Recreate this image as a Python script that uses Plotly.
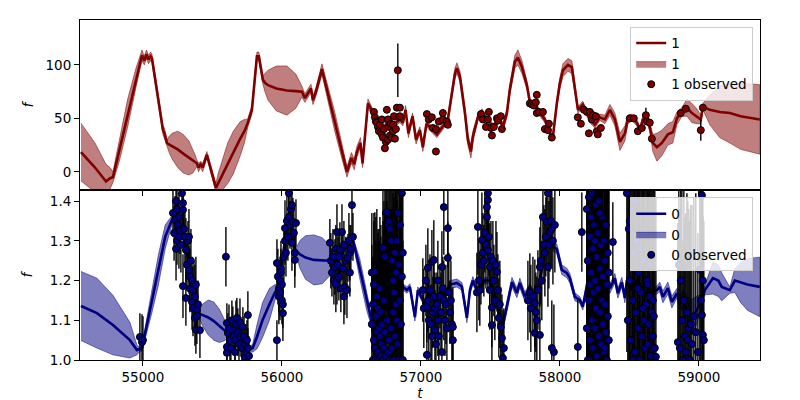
import numpy as np
import plotly.graph_objects as go
from plotly.subplots import make_subplots

# ---------------- channel 1 (top) model ----------------
t1_model = [54554, 54655, 54734, 54763, 54784, 54830, 54890, 54950, 54993, 55010, 55025, 55040, 55055, 55065,
            55144, 55155, 55173, 55190, 55210, 55250, 55290, 55330, 55360, 55375, 55388, 55400, 55415, 55430, 55460,
            55525, 55540, 55560, 55610, 55650, 55700, 55730, 55745, 55755, 55784, 55820, 55834, 55863, 55880, 55900,
            55960, 56036, 56100, 56130, 56144, 56165, 56209, 56223, 56245, 56288, 56330, 56380, 56430, 56468, 56500,
            56520, 56540, 56565, 56580, 56619, 56645, 56680, 56720, 56760, 56800, 56849, 56870, 56890, 56910, 56940,
            56965, 56993, 57014, 57040, 57080, 57115, 57194, 57223, 57245, 57259, 57281, 57317, 57338, 57360, 57374,
            57410, 57439, 57480, 57520, 57568, 57590, 57619, 57640, 57676, 57698, 57727, 57763, 57784, 57820, 57856,
            57892, 57928, 57950, 57978, 58000, 58022, 58058, 58086, 58108, 58130, 58165, 58194, 58216, 58252,
            58288, 58324, 58360, 58396, 58432, 58468, 58489, 58518, 58554, 58576, 58597, 58626, 58647, 58669,
            58698, 58734, 58777, 58813, 58842, 58878, 58914, 58950, 58985, 59014, 59029, 59050, 59079, 59150, 59223,
            59300, 59439]
f1_model = [18.5, 4, -9, -6, -5, 20, 55, 88, 109, 104, 110, 105, 108, 106,
            39, 36, 27, 25.5, 24, 21, 17, 13, 10, 9, 8, 4, 7, 4, 16,
            -15, -11, -6, 8, 18, 31, 38, 42, 46, 58, 108, 108, 86, 83, 81,
            78, 76, 75.5, 75.2, 75, 69, 78, 67, 75, 96, 74, 47, 20, 0, 13,
            7, 19, 27, 8, 64, 58, 48, 38, 46, 44, 49, 46, 58, 36, 52,
            30, 39, 23, 45, 40, 35, 49, 74, 92, 97, 89, 55, 30, 19, 33,
            51, 56, 48, 42, 49, 42, 55, 77, 103, 107, 98, 81, 65, 63, 55,
            49, 36, 33, 64, 83, 95, 100, 98, 80, 58, 63, 55, 49, 44,
            51, 49, 58, 49, 28, 36, 49, 51, 46, 39, 49, 49, 42, 27,
            23, 27, 35, 37, 50, 56, 60, 55, 52, 49, 61, 59.5, 58, 56, 55,
            52, 49]
s1_model = [27, 23, 16, 10, 5, 10, 13, 9, 5, 4, 4, 4, 4, 4,
            4, 5, 3, 8, 12, 17, 18, 16, 11, 7, 3, 4, 3, 4, 3,
            4, 9, 13, 19, 20, 16, 11, 7, 4, 4, 4, 4, 4, 9, 14,
            21, 23, 16, 9, 5, 4, 4, 4, 4, 5, 7, 9, 7, 5, 5,
            5, 5, 5, 4, 4, 3, 3, 3, 3, 3, 3, 3, 4, 4, 3,
            4, 3, 4, 3, 3, 3, 3, 4, 5, 5, 5, 5, 5, 6, 5,
            3, 3, 3, 3, 3, 4, 4, 5, 6, 7, 6, 4, 3, 3, 3,
            3, 3, 3, 4, 5, 6, 6, 6, 4, 3, 3, 3, 3, 3,
            3, 4, 5, 6, 8, 7, 4, 3, 3, 3, 3, 3, 4, 8,
            13, 12, 10, 10, 6, 4, 8, 9, 7, 4, 3, 8, 14, 24, 28,
            31, 32.5]

# ---------------- channel 1 (top) observations ----------------
t1_obs = [56662, 56669, 56676, 56683, 56691, 56698, 56705, 56712, 56719, 56719, 56727, 56734, 56741, 56748,
          56755, 56763, 56763, 56770, 56777, 56784, 56791, 56799, 56799, 56806, 56813, 56820, 56827, 56834,
          56842, 56849, 56849,
          57043, 57057, 57079, 57086, 57108, 57108, 57129, 57158, 57158, 57187, 57194,
          57432, 57446, 57468, 57482, 57489, 57504, 57511, 57525, 57547, 57554, 57575, 57583,
          57784, 57798, 57813, 57827, 57834, 57834, 57849, 57878, 57892, 57914, 57921, 57942,
          58129, 58151, 58173, 58194, 58209, 58216, 58230, 58237, 58259, 58266, 58273, 58295,
          58503, 58532, 58561, 58590, 58619, 58626, 58647, 58662,
          58870, 58906, 59014, 59029]
f1_obs = [56, 51, 47, 46, 42, 38, 44, 37, 35, 49, 32, 40, 22, 28,
          58, 49, 30, 42, 34, 45, 32, 44, 38, 52, 31, 40, 60, 95,
          51, 60, 52,
          54, 49, 51, 41, 40, 19, 47, 49, 55, 47, 44,
          54, 49, 42, 49, 56, 41, 34, 42, 50, 48, 52, 40,
          64, 63, 62, 65, 72, 55, 56, 56, 40, 39, 45, 32,
          51, 45, 58, 56, 36, 56, 49, 53, 52, 38, 35, 41,
          50, 50, 38, 41, 53, 47, 46, 31,
          55, 59, 39, 60]
e1_obs = [3, 3, 3, 3, 3, 3, 3, 3, 3, 3, 3, 3, 3, 3,
          3, 3, 3, 3, 3, 3, 3, 3, 3, 3, 3, 3, 3, 25,
          3, 3, 3,
          3, 3, 3, 3, 3, 3, 3, 3, 3, 3, 3,
          3, 3, 3, 3, 3, 3, 3, 3, 3, 3, 3, 3,
          3, 3, 3, 3, 3, 3, 3, 3, 3, 3, 3, 3,
          3, 3, 3, 3, 3, 3, 3, 3, 3, 3, 3, 3,
          3, 3, 3, 3, 7, 3, 3, 3,
          3, 3, 10, 3]

# ---------------- channel 0 (bottom) model ----------------
t0_model = [54554, 54669, 54784, 54906, 54957, 54978, 54993, 55065, 55110, 55160, 55209, 55235, 55266, 55317,
            55360, 55396, 55430, 55470, 55510, 55550, 55590, 55615, 55650, 55700, 55760, 55790, 55820, 55860,
            55910, 55950, 55970, 56000, 56030, 56055, 56079, 56100, 56130, 56170, 56230, 56290, 56340, 56380,
            56420, 56470, 56511, 56560, 56610, 56655, 56700, 56750, 56800, 56849, 56871, 56899, 56921, 56957,
            56978, 57014, 57029, 57065, 57100, 57140, 57170, 57210, 57259, 57295, 57331, 57353, 57374, 57403,
            57424, 57460, 57500, 57530, 57547, 57583, 57619, 57655, 57691, 57712, 57748, 57784, 57806, 57842,
            57870, 57906, 57928, 57950, 57978, 58014, 58050, 58072, 58108, 58144, 58165, 58201, 58230, 58270,
            58300, 58324, 58345, 58360, 58396, 58417, 58446, 58468, 58482, 58520, 58560, 58600, 58650, 58698,
            58719, 58741, 58777, 58806, 58842, 58863, 58885, 58921, 58950, 58986, 59020, 59043, 59101, 59140,
            59165, 59223, 59259, 59300, 59350, 59439]
f0_model = [1.136, 1.118, 1.088, 1.05, 1.025, 1.027, 1.03, 1.15, 1.225, 1.31, 1.353, 1.37, 1.34, 1.27,
            1.193, 1.118, 1.113, 1.107, 1.098, 1.086, 1.074, 1.066, 1.05, 1.04, 1.025, 1.03, 1.058, 1.1,
            1.14, 1.17, 1.18, 1.24, 1.33, 1.36, 1.295, 1.275, 1.266, 1.258, 1.252, 1.25, 1.25, 1.252,
            1.265, 1.285, 1.302, 1.23, 1.15, 1.083, 1.1, 1.14, 1.18, 1.2, 1.184, 1.176, 1.184, 1.108,
            1.176, 1.151, 1.134, 1.176, 1.15, 1.17, 1.16, 1.19, 1.194, 1.185, 1.106, 1.176, 1.2, 1.176,
            1.185, 1.2, 1.2, 1.16, 1.143, 1.076, 1.134, 1.196, 1.169, 1.194, 1.159, 1.184, 1.17, 1.176,
            1.227, 1.302, 1.32, 1.285, 1.28, 1.227, 1.219, 1.206, 1.159, 1.151, 1.134, 1.2, 1.23, 1.25,
            1.24, 1.222, 1.2, 1.18, 1.206, 1.168, 1.196, 1.156, 1.2, 1.18, 1.2, 1.17, 1.17, 1.176,
            1.184, 1.159, 1.181, 1.146, 1.168, 1.143, 1.151, 1.118, 1.108, 1.126, 1.15, 1.176, 1.206, 1.2,
            1.184, 1.176, 1.2, 1.195, 1.19, 1.184]
s0_model = [0.087, 0.088, 0.075, 0.045, 0.012, 0.005, 0.008, 0.03, 0.038, 0.03, 0.012, 0.006, 0.006, 0.006,
            0.006, 0.006, 0.028, 0.044, 0.048, 0.042, 0.025, 0.006, 0.006, 0.006, 0.006, 0.01, 0.03, 0.044,
            0.04, 0.02, 0.008, 0.006, 0.006, 0.006, 0.006, 0.006, 0.035, 0.055, 0.063, 0.058, 0.04, 0.01,
            0.006, 0.006, 0.008, 0.025, 0.025, 0.012, 0.008, 0.008, 0.008, 0.008, 0.008, 0.008, 0.008, 0.01,
            0.008, 0.008, 0.008, 0.008, 0.008, 0.008, 0.008, 0.01, 0.01, 0.01, 0.012, 0.01, 0.01, 0.008,
            0.008, 0.008, 0.008, 0.008, 0.008, 0.012, 0.012, 0.012, 0.012, 0.012, 0.012, 0.008, 0.008, 0.008,
            0.008, 0.008, 0.008, 0.01, 0.012, 0.012, 0.012, 0.012, 0.01, 0.008, 0.008, 0.008, 0.006, 0.006,
            0.006, 0.008, 0.01, 0.012, 0.012, 0.012, 0.012, 0.012, 0.01, 0.008, 0.008, 0.008, 0.008, 0.01,
            0.012, 0.015, 0.015, 0.015, 0.012, 0.015, 0.025, 0.04, 0.045, 0.035, 0.015, 0.012, 0.04, 0.04,
            0.035, 0.008, 0.03, 0.05, 0.065, 0.075]

# ---------------- channel 0 (bottom) observations ----------------
t0_obs = [54978, 54993, 55000,
          55216, 55224, 55231, 55238, 55238, 55245, 55245, 55252, 55259, 55259, 55266, 55273, 55281, 55288,
          55288, 55295, 55302, 55309, 55317, 55324, 55331, 55331, 55338, 55338, 55345, 55353, 55353, 55360,
          55360, 55367, 55374, 55374, 55381, 55381, 55388, 55388, 55396, 55288, 55309, 55410,
          55597,
          55604, 55604, 55604, 55611, 55619, 55626, 55633, 55640, 55647, 55655, 55662, 55662, 55669, 55676,
          55683, 55691, 55698, 55705, 55712, 55719, 55727, 55734, 55734, 55741, 55748, 55755, 55755, 55763,
          55964, 55964, 55971, 55978, 55978, 55986, 55993, 56000, 56007, 56007, 56014, 56022, 56022, 56029,
          56036, 56043, 56050, 56050, 56058, 56065, 56072, 56072, 56079, 56086, 56093, 56093, 56101, 55986,
          56000, 55993,
          56345, 56352, 56360, 56367, 56374, 56381, 56388, 56396, 56396, 56403, 56410, 56417, 56424, 56432,
          56432, 56439, 56446, 56453, 56460, 56468, 56475, 56482, 56489, 56489, 56496, 56504, 56511, 56388,
          56410, 56446,
          56647, 56647, 56655, 56655, 56662, 56662, 56669, 56669, 56676, 56676, 56683, 56683, 56691, 56691,
          56698, 56698, 56705, 56705, 56712, 56712, 56719, 56719, 56727, 56727, 56734, 56734, 56741, 56741,
          56748, 56748, 56755, 56755, 56763, 56763, 56770, 56770, 56777, 56777, 56784, 56784, 56791, 56791,
          56799, 56799, 56806, 56806, 56813, 56813, 56820, 56820, 56827, 56827, 56834, 56834, 56842, 56842,
          56849, 56849, 56856, 56856, 56863, 56863, 56870, 56870,
          57014, 57021, 57036, 57043, 57043, 57050, 57050, 57057, 57065, 57072, 57079, 57079, 57086, 57093,
          57093, 57101, 57101, 57108, 57115, 57122, 57122, 57129, 57137, 57144, 57151, 57151, 57158, 57165,
          57165, 57173, 57180, 57187, 57194, 57194, 57201, 57209, 57216, 57223, 57230, 57230,
          57403, 57410, 57417, 57424, 57432, 57439, 57446, 57453, 57460, 57468, 57475, 57475, 57482, 57482,
          57482, 57489, 57496, 57496, 57504, 57511, 57511, 57518, 57525, 57532, 57540, 57547, 57554, 57561,
          57568, 57575, 57583, 57590, 57597,
          57770, 57784, 57791, 57806, 57820, 57820, 57827, 57834, 57842, 57856, 57856, 57863, 57870, 57878,
          57885, 57892, 57899, 57906, 57914, 57914, 57921, 57928, 57935, 57942, 57950, 57964, 57957, 57942,
          58129, 58158,
          58194, 58194, 58201, 58201, 58209, 58209, 58216, 58216, 58223, 58223, 58230, 58230, 58237, 58237,
          58245, 58245, 58252, 58252, 58259, 58259, 58266, 58266, 58273, 58273, 58281, 58281, 58288, 58288,
          58295, 58295, 58302, 58302, 58309, 58309, 58317, 58317, 58324, 58324, 58331, 58331, 58338, 58338,
          58345, 58345, 58352, 58352, 58216, 58252, 58288, 58324, 58381,
          58482, 58489, 58496, 58503, 58511, 58518, 58525, 58532, 58539, 58547, 58554, 58561, 58568, 58575,
          58583, 58590, 58597, 58604, 58611, 58619, 58626, 58633, 58640, 58647, 58655, 58662, 58669, 58676,
          58683, 58691, 58503, 58539, 58575, 58611, 58647, 58525, 58561, 58597, 58633, 58669,
          58849, 58856, 58863, 58870, 58878, 58885, 58892, 58899, 58906, 58914, 58921, 58928, 58935, 58942,
          58950, 58964, 58978, 58993, 59007, 59014, 59022, 59022, 59029, 59029, 59036]
f0_obs = [1.058, 1.045, 1.05,
          1.37, 1.32, 1.353, 1.28, 1.40, 1.30, 1.38, 1.34, 1.36, 1.31, 1.327, 1.29, 1.42, 1.378,
          1.395, 1.33, 1.31, 1.277, 1.24, 1.30, 1.31, 1.227, 1.21, 1.18, 1.25, 1.2, 1.146, 1.176,
          1.13, 1.19, 1.106, 1.16, 1.076, 1.19, 1.126, 1.11, 1.14, 1.186, 1.156, 1.075,
          1.26,
          1.093, 1.033, 1.018, 1.068, 1.08, 1.05, 1.03, 1.10, 1.075, 1.06, 1.05, 1.02, 1.09, 1.106,
          1.07, 1.04, 1.095, 1.058, 1.03, 1.083, 1.06, 1.008, 1.04, 1.02, 1.05, 1.113, 1.03, 1.01,
          1.05, 1.244, 1.21, 1.18, 1.16, 1.2, 1.23, 1.19, 1.118, 1.14, 1.26, 1.3, 1.332, 1.27,
          1.35, 1.31, 1.42, 1.36, 1.34, 1.38, 1.39, 1.295, 1.348, 1.32, 1.27, 1.252, 1.345, 1.17,
          1.15, 1.22,
          1.295, 1.25, 1.22, 1.26, 1.2, 1.234, 1.28, 1.322, 1.2, 1.24, 1.21, 1.277, 1.18, 1.322,
          1.26, 1.23, 1.29, 1.184, 1.25, 1.176, 1.257, 1.3, 1.22, 1.27, 1.28, 1.39, 1.31, 1.19,
          1.26, 1.16,
          1.22, 1.09, 1.0, 1.14, 1.05, 1.19, 1.03, 1.222, 1.11, 1.0, 1.07, 1.16, 1.02, 1.13,
          1.08, 1.0, 1.06, 1.18, 1.01, 1.12, 1.04, 1.09, 1.282, 1.0, 1.15, 1.03, 1.26, 1.07,
          1.01, 1.37, 1.372, 1.1, 1.02, 1.34, 1.05, 1.35, 1.33, 1.0, 1.3, 1.08, 1.25, 1.03,
          1.2, 1.12, 1.17, 1.0, 1.27, 1.06, 1.22, 1.14, 1.1, 1.3, 1.37, 1.04, 1.24, 1.0,
          1.34, 1.15, 1.21, 1.09, 1.21, 1.42, 1.27, 1.0,
          1.176, 1.13, 1.2, 1.013, 1.134, 1.232, 1.15, 1.1, 1.176, 1.09, 1.247, 1.06, 1.12, 1.252,
          1.16, 1.076, 1.13, 1.04, 1.14, 1.2, 1.1, 1.06, 1.16, 1.12, 1.234, 1.02, 1.18, 1.385,
          1.15, 1.1, 1.14, 1.08, 1.332, 1.257, 1.17, 1.12, 1.15, 1.09, 1.083, 1.05,
          1.17, 1.335, 1.2, 1.176, 1.24, 1.302, 1.27, 1.25, 1.32, 1.29, 1.385, 1.36, 1.403, 1.277,
          1.42, 1.31, 1.234, 1.176, 1.26, 1.132, 1.088, 1.25, 1.2, 1.15, 1.24, 1.222, 1.176, 1.106,
          1.14, 1.083, 1.055, 1.005, 1.03,
          1.15, 1.169, 1.13, 1.16, 1.143, 1.068, 1.12, 1.1, 1.176, 1.063, 1.234, 1.25, 1.2, 1.36,
          1.29, 1.27, 1.31, 1.348, 1.42, 1.234, 1.29, 1.322, 1.35, 1.33, 1.3, 1.34, 1.02, 1.03,
          1.033, 1.322,
          1.38, 1.08, 1.25, 1.0, 1.41, 1.15, 1.31, 1.05, 1.22, 1.36, 1.1, 1.42, 1.28, 1.03,
          1.17, 1.34, 1.2, 1.08, 1.39, 1.13, 1.26, 1.01, 1.32, 1.18, 1.06, 1.4, 1.23, 1.12,
          1.29, 1.04, 1.36, 1.15, 1.21, 1.09, 1.3, 1.02, 1.25, 1.14, 1.34, 1.07, 1.19, 1.0,
          1.27, 1.11, 1.22, 1.05, 1.19, 1.3, 1.37, 1.03, 1.297,
          1.42, 1.1, 1.33, 1.2, 1.05, 1.38, 1.15, 1.27, 1.02, 1.12, 1.3, 1.08, 1.22, 1.0,
          1.17, 1.06, 1.25, 1.1, 1.03, 1.14, 1.2, 1.04, 1.09, 1.16, 1.01, 1.12, 1.06, 1.11,
          1.03, 1.008, 1.35, 1.4, 1.28, 1.32, 1.24, 1.0, 1.18, 1.13, 1.19, 1.15,
          1.045, 1.24, 1.03, 1.2, 1.1, 1.0, 1.15, 1.06, 1.02, 1.12, 1.05, 1.08, 1.0, 1.09,
          1.04, 1.11, 1.07, 1.02, 1.227, 1.15, 1.113, 1.415, 1.063, 1.2, 1.05]
e0_obs = [0.06, 0.07, 0.06,
          0.06, 0.07, 0.06, 0.08, 0.07, 0.06, 0.05, 0.07, 0.06, 0.08, 0.06, 0.07, 0.08, 0.06,
          0.07, 0.06, 0.07, 0.08, 0.06, 0.05, 0.07, 0.06, 0.07, 0.06, 0.08, 0.06, 0.07, 0.06,
          0.07, 0.06, 0.07, 0.08, 0.06, 0.07, 0.06, 0.07, 0.06, 0.08, 0.07, 0.07,
          0.075,
          0.05, 0.05, 0.06, 0.05, 0.06, 0.05, 0.06, 0.05, 0.06, 0.05, 0.06, 0.05, 0.06, 0.05,
          0.06, 0.05, 0.06, 0.05, 0.06, 0.05, 0.05, 0.06, 0.05, 0.06, 0.05, 0.06, 0.05, 0.05,
          0.05, 0.06, 0.07, 0.06, 0.07, 0.06, 0.07, 0.06, 0.07, 0.06, 0.07, 0.06, 0.07, 0.06,
          0.07, 0.06, 0.08, 0.07, 0.06, 0.07, 0.06, 0.07, 0.06, 0.07, 0.06, 0.07, 0.06, 0.07,
          0.06, 0.06,
          0.06, 0.07, 0.06, 0.07, 0.06, 0.07, 0.06, 0.07, 0.06, 0.07, 0.06, 0.07, 0.06, 0.07,
          0.06, 0.07, 0.06, 0.07, 0.06, 0.07, 0.06, 0.07, 0.06, 0.07, 0.06, 0.07, 0.06, 0.07,
          0.06, 0.07,
          0.15, 0.2, 0.25, 0.12, 0.3, 0.18, 0.2, 0.15, 0.25, 0.3, 0.18, 0.22, 0.3, 0.2,
          0.25, 0.3, 0.2, 0.18, 0.3, 0.22, 0.25, 0.2, 0.2, 0.35, 0.25, 0.3, 0.25, 0.3,
          0.35, 0.2, 0.25, 0.3, 0.35, 0.3, 0.3, 0.25, 0.3, 0.35, 0.25, 0.3, 0.3, 0.35,
          0.3, 0.3, 0.35, 0.3, 0.3, 0.35, 0.3, 0.35, 0.3, 0.35, 0.3, 0.3, 0.35, 0.3,
          0.3, 0.35, 0.3, 0.3, 0.3, 0.35, 0.3, 0.3,
          0.08, 0.1, 0.09, 0.1, 0.09, 0.1, 0.08, 0.1, 0.09, 0.1, 0.08, 0.1, 0.09, 0.1,
          0.08, 0.1, 0.09, 0.1, 0.08, 0.1, 0.09, 0.1, 0.08, 0.1, 0.09, 0.1, 0.08, 0.12,
          0.1, 0.09, 0.1, 0.08, 0.1, 0.09, 0.1, 0.08, 0.1, 0.09, 0.1, 0.09,
          0.1, 0.12, 0.1, 0.09, 0.1, 0.12, 0.1, 0.09, 0.1, 0.11, 0.12, 0.1, 0.12, 0.1,
          0.12, 0.1, 0.11, 0.1, 0.09, 0.1, 0.11, 0.1, 0.09, 0.1, 0.11, 0.1, 0.09, 0.1,
          0.11, 0.1, 0.11, 0.12, 0.1,
          0.1, 0.1, 0.11, 0.1, 0.11, 0.12, 0.1, 0.11, 0.1, 0.12, 0.1, 0.11, 0.1, 0.12,
          0.1, 0.11, 0.1, 0.12, 0.13, 0.1, 0.11, 0.1, 0.12, 0.1, 0.11, 0.12, 0.12, 0.12,
          0.12, 0.1,
          0.4, 0.4, 0.35, 0.4, 0.45, 0.4, 0.35, 0.4, 0.4, 0.45, 0.4, 0.35, 0.4, 0.45,
          0.4, 0.35, 0.4, 0.45, 0.4, 0.35, 0.4, 0.45, 0.4, 0.35, 0.4, 0.45, 0.4, 0.35,
          0.4, 0.45, 0.4, 0.35, 0.4, 0.45, 0.4, 0.35, 0.4, 0.45, 0.4, 0.35, 0.4, 0.45,
          0.4, 0.35, 0.4, 0.45, 0.4, 0.4, 0.4, 0.4, 0.1,
          0.4, 0.4, 0.35, 0.4, 0.45, 0.4, 0.35, 0.4, 0.45, 0.4, 0.35, 0.4, 0.45, 0.4,
          0.35, 0.4, 0.45, 0.4, 0.35, 0.4, 0.45, 0.4, 0.35, 0.4, 0.45, 0.4, 0.35, 0.4,
          0.45, 0.4, 0.4, 0.4, 0.4, 0.4, 0.4, 0.4, 0.4, 0.4, 0.4, 0.4,
          0.3, 0.3, 0.35, 0.3, 0.35, 0.3, 0.35, 0.3, 0.35, 0.3, 0.35, 0.3, 0.35, 0.3,
          0.35, 0.3, 0.35, 0.3, 0.3, 0.35, 0.3, 0.35, 0.3, 0.35, 0.3]

x_ticks = [55000, 56000, 57000, 58000, 59000]
y1_ticks = [0, 50, 100]
y0_ticks = [1.0, 1.1, 1.2, 1.3, 1.4]

RED = '#800000'
BLUE = '#000080'
RED_FILL = 'rgba(128,0,0,0.5)'
BLUE_FILL = 'rgba(0,0,128,0.5)'
FONT = 'DejaVu Sans'

fig = make_subplots(rows=2, cols=1, shared_xaxes=True, vertical_spacing=0)


def add_channel(row, t, f, s, to, fo, eo, color, fill, name, legend):
    t = np.asarray(t, dtype=float)
    f = np.asarray(f, dtype=float)
    s = np.asarray(s, dtype=float)
    fig.add_trace(go.Scatter(
        x=np.concatenate([t, t[::-1]]),
        y=np.concatenate([f + s, (f - s)[::-1]]),
        fill='toself', fillcolor=fill, mode='lines',
        line=dict(color=fill, width=1), name=name,
        legend=legend, legendrank=2, hoverinfo='skip'), row=row, col=1)
    fig.add_trace(go.Scatter(
        x=t, y=f, mode='lines', line=dict(color=color, width=2.6),
        name=name, legend=legend, legendrank=1), row=row, col=1)
    fig.add_trace(go.Scatter(
        x=to, y=fo, mode='markers',
        marker=dict(size=7, color=color, line=dict(color='black', width=1)),
        error_y=dict(type='data', array=eo, color='black', thickness=1.4, width=0),
        name=name + ' observed', legend=legend, legendrank=3), row=row, col=1)


add_channel(1, t1_model, f1_model, s1_model, t1_obs, f1_obs, e1_obs, RED, RED_FILL, '1', 'legend')
add_channel(2, t0_model, f0_model, s0_model, t0_obs, f0_obs, e0_obs, BLUE, BLUE_FILL, '0', 'legend2')

axis_common = dict(showline=True, linecolor='black', linewidth=1, mirror=True,
                   ticks='outside', ticklen=5, tickwidth=1, tickcolor='black',
                   showgrid=False, zeroline=False, automargin=False,
                   tickfont=dict(family=FONT, size=13.5, color='black'))

fig.update_xaxes(range=[54547, 59440], tickvals=x_ticks, tickformat='d', **axis_common)
fig.update_xaxes(title=dict(text='<i>t</i>', font=dict(family=FONT, size=13.5, color='black'), standoff=4),
                 row=2, col=1)
fig.update_yaxes(range=[-17, 142], tickvals=y1_ticks, row=1, col=1, **axis_common)
fig.update_yaxes(range=[1.0, 1.428], tickvals=y0_ticks, tickformat='.1f', row=2, col=1, **axis_common)
fig.update_yaxes(title=dict(text='<i>f</i>', font=dict(family=FONT, size=13.5, color='black'), standoff=8),
                 row=1, col=1)
fig.update_yaxes(title=dict(text='<i>f</i>', font=dict(family=FONT, size=13.5, color='black'), standoff=14),
                 row=2, col=1)

legend_common = dict(bgcolor='rgba(255,255,255,0.8)', bordercolor='#cccccc', borderwidth=1,
                     font=dict(family=FONT, size=13.5, color='black'),
                     xanchor='right', yanchor='top', x=0.99, tracegroupgap=0)

# the page body has an 8 px margin, so offset the figure margins to land the
# plot area at the reference's screen position
fig.update_layout(
    width=800, height=400,
    margin=dict(l=72, r=48, t=12, b=48, autoexpand=False),
    paper_bgcolor='white', plot_bgcolor='white',
    showlegend=True,
    legend=dict(y=0.98, **legend_common),
    legend2=dict(y=0.478, **legend_common),
)

fig.write_html('out.html')
